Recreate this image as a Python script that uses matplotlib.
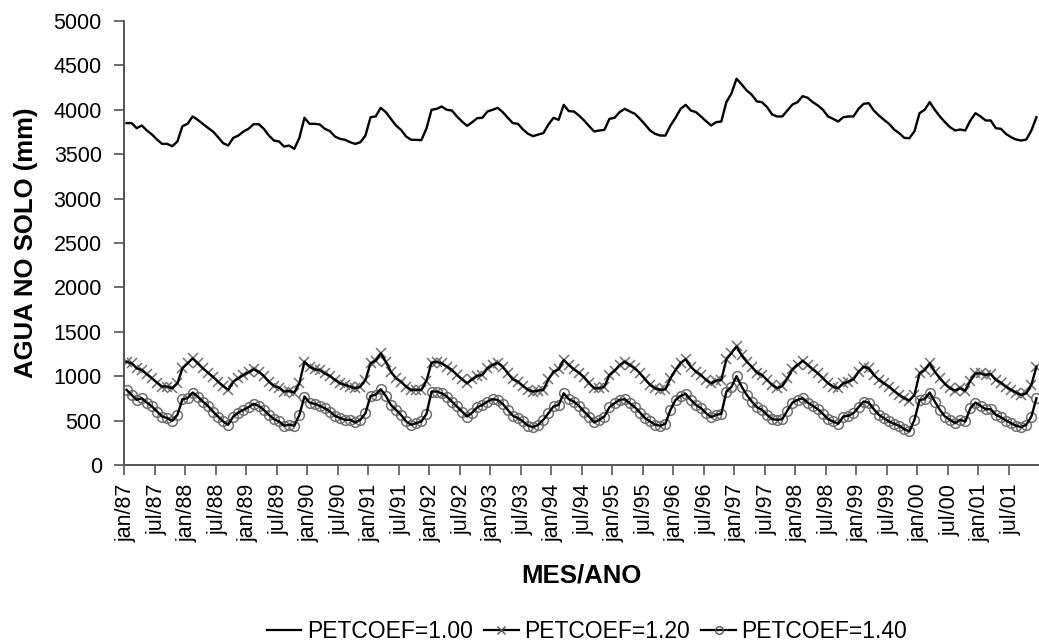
import numpy as np
import matplotlib.pyplot as plt
from matplotlib.lines import Line2D

plt.rcParams['font.family'] = ['Liberation Sans', 'DejaVu Sans']

# monthly soil water storage (mm), jan/87 .. dec/01
agua_100 = [
    3850, 3850, 3793, 3823, 3767, 3722, 3665, 3616, 3616, 3590, 3643, 3816,
    3842, 3925, 3887, 3842, 3797, 3756, 3692, 3624, 3598, 3684, 3710, 3756,
    3786, 3838, 3838, 3786, 3710, 3654, 3643, 3586, 3598, 3560, 3684, 3910,
    3842, 3842, 3835, 3786, 3760, 3699, 3673, 3662, 3635, 3616, 3635, 3710,
    3917, 3925, 4022, 3974, 3898, 3823, 3774, 3699, 3662, 3662, 3658, 3790,
    4000, 4011, 4037, 4000, 3992, 3925, 3868, 3819, 3861, 3906, 3910, 3981,
    4000, 4022, 3974, 3910, 3850, 3842, 3778, 3729, 3703, 3722, 3737, 3835,
    3910, 3887, 4056, 3985, 3981, 3936, 3880, 3816, 3756, 3767, 3774, 3898,
    3910, 3974, 4011, 3981, 3955, 3898, 3835, 3767, 3729, 3710, 3710, 3823,
    3910, 4011, 4056, 3992, 3974, 3925, 3872, 3823, 3861, 3868, 4086, 4185,
    4350, 4286, 4218, 4169, 4094, 4086, 4030, 3947, 3925, 3925, 3992, 4060,
    4086, 4154, 4135, 4086, 4049, 4000, 3925, 3898, 3868, 3917, 3925, 3925,
    4011, 4067, 4075, 3992, 3936, 3887, 3842, 3778, 3737, 3684, 3680, 3759,
    3962, 4000, 4086, 4000, 3925, 3861, 3804, 3767, 3778, 3767, 3880, 3962,
    3925, 3880, 3880, 3793, 3786, 3729, 3692, 3665, 3654, 3665, 3767, 3917,
]
agua_120 = [
    1163, 1145, 1089, 1070, 1021, 976, 928, 883, 883, 864, 920, 1089,
    1145, 1201, 1145, 1089, 1040, 995, 939, 890, 846, 939, 976, 1014,
    1044, 1077, 1051, 1003, 939, 890, 872, 827, 834, 816, 920, 1163,
    1107, 1077, 1070, 1032, 1003, 958, 920, 902, 883, 864, 883, 958,
    1145, 1175, 1257, 1163, 1051, 976, 939, 883, 846, 846, 846, 950,
    1152, 1163, 1145, 1107, 1070, 1014, 965, 920, 965, 1003, 1014, 1089,
    1126, 1152, 1107, 1032, 965, 939, 890, 846, 827, 838, 846, 965,
    1051, 1077, 1182, 1126, 1077, 1040, 988, 920, 864, 864, 883, 1014,
    1062, 1126, 1163, 1126, 1089, 1032, 965, 902, 864, 846, 853, 976,
    1070, 1152, 1190, 1107, 1051, 1014, 958, 920, 950, 958, 1190, 1260,
    1335, 1238, 1163, 1107, 1040, 1014, 958, 902, 864, 890, 976, 1077,
    1126, 1175, 1126, 1077, 1032, 976, 920, 883, 864, 920, 939, 965,
    1051, 1107, 1089, 1014, 958, 920, 883, 834, 789, 752, 726, 789,
    1032, 1070, 1145, 1051, 976, 913, 864, 838, 864, 838, 950, 1032,
    1032, 1014, 1025, 958, 928, 883, 846, 816, 789, 808, 902, 1107,
]
agua_140 = [
    846, 789, 733, 752, 703, 659, 602, 546, 528, 498, 565, 741,
    752, 816, 771, 715, 666, 602, 546, 490, 453, 546, 591, 621,
    651, 688, 666, 621, 565, 516, 490, 442, 453, 442, 565, 771,
    703, 688, 666, 640, 602, 554, 528, 509, 509, 479, 509, 584,
    778, 789, 853, 778, 677, 621, 565, 490, 453, 472, 490, 575,
    827, 827, 808, 771, 715, 659, 602, 546, 591, 651, 677, 715,
    741, 733, 688, 621, 554, 528, 490, 442, 427, 453, 509, 584,
    659, 677, 808, 741, 715, 666, 602, 546, 479, 509, 546, 651,
    696, 733, 741, 696, 651, 591, 528, 490, 453, 442, 464, 621,
    733, 778, 801, 733, 677, 640, 584, 539, 565, 576, 827, 880,
    1000, 883, 789, 715, 651, 621, 565, 516, 509, 516, 613, 703,
    733, 752, 703, 666, 629, 576, 516, 490, 464, 546, 554, 584,
    651, 715, 703, 629, 565, 528, 490, 464, 442, 404, 378, 509,
    733, 741, 816, 715, 621, 546, 509, 472, 509, 490, 640, 703,
    666, 629, 629, 565, 539, 501, 472, 442, 427, 453, 546, 752,
]

meses = ['jan', 'jul']
anos = [f'{a % 100:02d}' for a in range(1987, 2002)]
rotulos = [f'{m}/{a}' for a in anos for m in meses]

x = np.arange(len(agua_100))
eixo_cor = '#555555'
marca_cor = '#707070'

fig = plt.figure(figsize=(10.39, 6.43), dpi=100)
ax = fig.add_axes([124 / 1039, 1 - 465 / 643, 1 - 124 / 1039, (465 - 21) / 643])

ax.plot(x, agua_100, color='black', lw=1.7, zorder=4)
ax.plot(x, agua_120, ls='none', marker='x', ms=7.5, mew=1.1, color=marca_cor, zorder=2)
ax.plot(x, agua_120, color='black', lw=1.7, zorder=3)
ax.plot(x, agua_140, ls='none', marker='o', ms=7, mew=1.1, mfc='none', mec=marca_cor, zorder=2)
ax.plot(x, agua_140, color='black', lw=1.7, zorder=3)

ax.set_xlim(-0.5, len(x) - 0.5)
ax.set_ylim(0, 5000)
ax.set_yticks(np.arange(0, 5001, 500))

# tick marks on the category boundaries, labels under every 6th month
ax.set_xticks(np.arange(0, len(x), 6) - 0.5)
ax.set_xticklabels([])
ax.set_xticks(np.arange(0, len(x), 6), minor=True)
ax.set_xticklabels(rotulos, minor=True, rotation=90, fontsize=15.5)
ax.tick_params(axis='x', which='major', length=7, width=1.2, color=eixo_cor)
ax.tick_params(axis='x', which='minor', length=0, pad=13.5)
ax.tick_params(axis='y', labelsize=15.5, length=7, width=1.2, color=eixo_cor, pad=9)

for s in ['top', 'right']:
    ax.spines[s].set_visible(False)
for s in ['left', 'bottom']:
    ax.spines[s].set_color(eixo_cor)
    ax.spines[s].set_linewidth(1.4)

ax.set_ylabel('AGUA NO SOLO (mm)', fontsize=18.5, fontweight='bold', labelpad=11)
ax.set_xlabel('MES/ANO', fontsize=18.5, fontweight='bold', labelpad=15)

handles = [
    Line2D([], [], color='black', lw=1.6),
    Line2D([], [], color='black', lw=1.6, marker='x', ms=6, mew=1.0, mec='#555555'),
    Line2D([], [], color='black', lw=1.6, marker='o', ms=5.5, mew=1.0, mfc='none', mec='#555555'),
]
fig.legend(handles, ['PETCOEF=1.00', 'PETCOEF=1.20', 'PETCOEF=1.40'],
           loc='center', bbox_to_anchor=(587 / 1039, 1 - 632 / 643), ncol=3,
           frameon=False, fontsize=16.5, handlelength=1.5, handletextpad=0.25,
           columnspacing=0.5, borderpad=0)

fig.savefig('out.png', dpi=100)
